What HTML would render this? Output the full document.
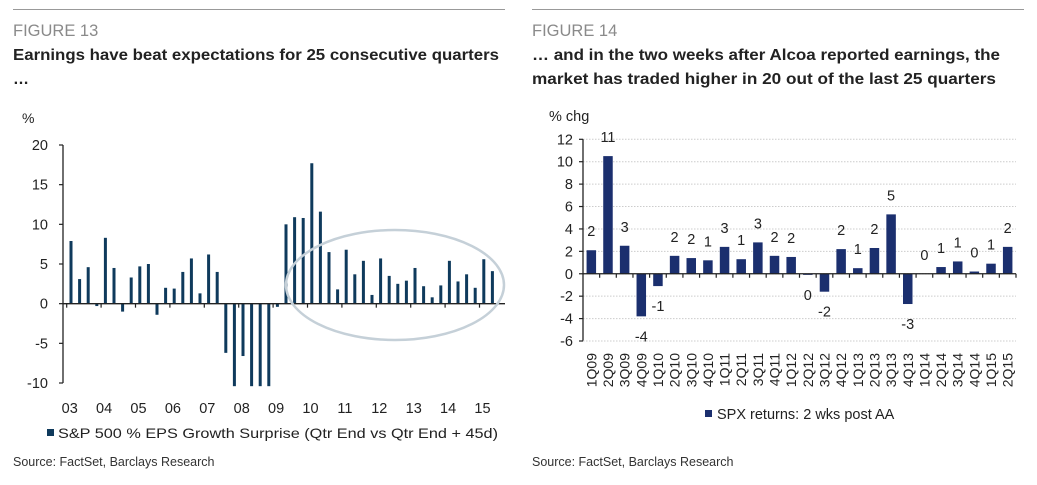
<!DOCTYPE html>
<html><head><meta charset="utf-8"><style>
html,body{margin:0;padding:0;background:#fff;}
svg{display:block;font-family:"Liberation Sans",sans-serif;}
</style></head><body>
<svg id="root" width="1037" height="485" viewBox="0 0 1037 485" xmlns="http://www.w3.org/2000/svg">
<g>
<line x1="13" y1="9.5" x2="505" y2="9.5" stroke="#999" stroke-width="1"/>
<text x="13" y="36" font-size="16.5" fill="#8a8a8a">FIGURE 13</text>
<text x="13" y="60" font-size="16" font-weight="bold" fill="#222" textLength="486" lengthAdjust="spacingAndGlyphs">Earnings have beat expectations for 25 consecutive quarters</text>
<text x="13" y="84" font-size="16" font-weight="bold" fill="#222">…</text>
<text x="22" y="123" font-size="14" fill="#222">%</text>
<g id="leftChart"></g>
<text x="13" y="466" font-size="12.5" fill="#333">Source: FactSet, Barclays Research</text>
</g>
<g>
<line x1="532" y1="9.5" x2="1024" y2="9.5" stroke="#999" stroke-width="1"/>
<text x="532" y="36" font-size="16.5" fill="#8a8a8a">FIGURE 14</text>
<text x="532" y="60" font-size="16" font-weight="bold" fill="#222" textLength="468" lengthAdjust="spacingAndGlyphs">… and in the two weeks after Alcoa reported earnings, the</text>
<text x="532" y="84" font-size="16" font-weight="bold" fill="#222" textLength="464" lengthAdjust="spacingAndGlyphs">market has traded higher in 20 out of the last 25 quarters</text>
<text x="549" y="121" font-size="14.5" fill="#222">% chg</text>
<g id="rightChart"></g>
<text x="532" y="466" font-size="12.5" fill="#333">Source: FactSet, Barclays Research</text>
</g>
</svg>
<script>
// Left chart data
const leftYears = ["03","04","05","06","07","08","09","10","11","12","13","14","15"];
const leftValues = [7.9,3.1,4.6,-0.3, 8.3,4.5,-1.0,3.3, 4.7,5.0,-1.4,2.0, 1.9,4.0,5.7,1.3, 6.2,4.0,-6.2,-10.5, -6.6,-10.5,-10.5,-10.5, -0.4,10.0,10.9,10.8, 17.7,11.6,6.5,1.8, 6.8,3.7,5.4,1.1, 5.7,3.5,2.5,2.9, 4.5,2.2,0.8,2.3, 5.4,2.8,3.7,2.0, 5.6,4.1];
const leftTicks = [20,15,10,5,0,-5,-10];
const leftLegend = "S&P 500 % EPS Growth Surprise (Qtr End vs Qtr End + 45d)";
// Right chart data
const rightCats = ["1Q09","2Q09","3Q09","4Q09","1Q10","2Q10","3Q10","4Q10","1Q11","2Q11","3Q11","4Q11","1Q12","2Q12","3Q12","4Q12","1Q13","2Q13","3Q13","4Q13","1Q14","2Q14","3Q14","4Q14","1Q15","2Q15"];
const rightValues = [2.1,10.5,2.5,-3.8,-1.1,1.6,1.4,1.2,2.4,1.3,2.8,1.6,1.5,-0.1,-1.6,2.2,0.5,2.3,5.3,-2.7,0.0,0.6,1.1,0.2,0.9,2.4];
const rightLabels = ["2","11","3","-4","-1","2","2","1","3","1","3","2","2","0","-2","2","1","2","5","-3","0","1","1","0","1","2"];
const rightTicks = [12,10,8,6,4,2,0,-2,-4,-6];
const rightLegend = "SPX returns: 2 wks post AA";

const NS="http://www.w3.org/2000/svg";
function mk(parent,tag,attrs,txt){const e=document.createElementNS(NS,tag);for(const k in attrs)e.setAttribute(k,attrs[k]);if(txt!==undefined)e.textContent=txt;parent.appendChild(e);return e;}

// ---- Left chart ----
(function(){
  const g=document.getElementById('leftChart');
  const x0=63, xEnd=505, yTop=145, yBot=383, vMax=20, vMin=-10;
  const y=v=>yTop+(vMax-v)*(yBot-yTop)/(vMax-vMin);
  const qStep=8.6, bx=i=>71+i*qStep;
  // y axis
  let e=mk(g,'line',{x1:x0,y1:yTop,x2:x0,y2:yBot,stroke:'#222','stroke-width':1.3});
  
  
  leftTicks.forEach(t=>{
    let tk=mk(g,'line',{x1:x0-4,y1:y(t),x2:x0,y2:y(t),stroke:'#222','stroke-width':1.2});
    
    
    let tl=mk(g,'text',{x:x0-15,y:y(t)+5,'font-size':14.5,fill:'#222','text-anchor':'end'},String(t));
    
    
  });
  // bars
  const bw=3;
  leftValues.forEach((v,i)=>{
    const vv=Math.max(v,-10.4);
    const yt=Math.min(y(vv),y(0)), h=Math.abs(y(vv)-y(0));
    let r=mk(g,'rect',{x:bx(i)-bw/2,y:yt,width:bw,height:h,fill:'#0f3a5c'});
    
    
  });
  // zero axis
  e=mk(g,'line',{x1:x0,y1:y(0),x2:xEnd,y2:y(0),stroke:'#222','stroke-width':1.3});
  
  
  leftYears.forEach((yr,k)=>{
    const tx=bx(k*4)-4.3;
    let tk=mk(g,'line',{x1:tx,y1:y(0),x2:tx,y2:y(0)+4,stroke:'#222','stroke-width':1.2});
    
    
    let tl=mk(g,'text',{x:tx+3,y:413,'font-size':14.5,fill:'#222','text-anchor':'middle'},yr);
    
    
  });
  // ellipse
  e=mk(g,'ellipse',{cx:395,cy:285,rx:109,ry:55,fill:'none',stroke:'#c5d0d8','stroke-width':2.5});
  
  
  // legend
  e=mk(g,'rect',{x:47,y:429,width:7,height:7,fill:'#0f3a5c'});
  
  
  e=mk(g,'text',{x:58,y:438,'font-size':14,fill:'#222',textLength:440,lengthAdjust:'spacingAndGlyphs'},leftLegend);
  
  
})();

// ---- Right chart ----
(function(){
  const g=document.getElementById('rightChart');
  const x0=583, xEnd=1016, yTop=139.3, yBot=341, vMax=12, vMin=-6;
  const y=v=>yTop+(vMax-v)*(yBot-yTop)/(vMax-vMin);
  const band=(xEnd-x0)/rightCats.length, cx=i=>x0+band*(i+0.5);
  rightTicks.forEach(t=>{
    if(t!==vMin){
      let gl=mk(g,'line',{x1:x0,y1:y(t),x2:xEnd,y2:y(t),stroke:'#ccc','stroke-width':1,'stroke-dasharray':'1.5,1.5'});
      
      
    }
    let tk=mk(g,'line',{x1:x0-4,y1:y(t),x2:x0,y2:y(t),stroke:'#222','stroke-width':1.2});
    
    
    let tl=mk(g,'text',{x:x0-10,y:y(t)+5,'font-size':14.5,fill:'#222','text-anchor':'end'},String(t));
    
    
  });
  let e=mk(g,'line',{x1:x0,y1:yTop,x2:x0,y2:yBot,stroke:'#222','stroke-width':1.3});
  
  
  e=mk(g,'line',{x1:x0,y1:yBot,x2:xEnd,y2:yBot,stroke:'#ccc','stroke-width':1,'stroke-dasharray':'1.5,1.5'});
  
  
  const bw=9.5;
  rightValues.forEach((v,i)=>{
    const yt=Math.min(y(v),y(0)), h=Math.abs(y(v)-y(0));
    let r=mk(g,'rect',{x:cx(i)-bw/2,y:yt,width:bw,height:h,fill:'#1b2f6e'});
    
    
    const ly = v>=0 ? y(v)-19+5 : y(v)+20+5;
    let l=mk(g,'text',{x:cx(i),y:ly,'font-size':14.5,fill:'#222','text-anchor':'middle'},rightLabels[i]);
    
    
  });
  e=mk(g,'line',{x1:x0,y1:y(0),x2:xEnd,y2:y(0),stroke:'#222','stroke-width':1.3});
  
  
  rightCats.forEach((c,i)=>{
    const tx=x0+band*(i+1);
    let tk=mk(g,'line',{x1:tx,y1:y(0),x2:tx,y2:y(0)+4,stroke:'#222','stroke-width':1.2});
    
    
    let tl=mk(g,'text',{x:0,y:0,'font-size':14,fill:'#222','text-anchor':'end',transform:`translate(${cx(i)+5},353) rotate(-90)`},c);
    
    
  });
  e=mk(g,'rect',{x:705,y:410,width:7,height:7,fill:'#1b2f6e'});
  
  
  e=mk(g,'text',{x:717,y:419,'font-size':14.5,fill:'#222'},rightLegend);
  
  
})();
</script>
</body></html>
